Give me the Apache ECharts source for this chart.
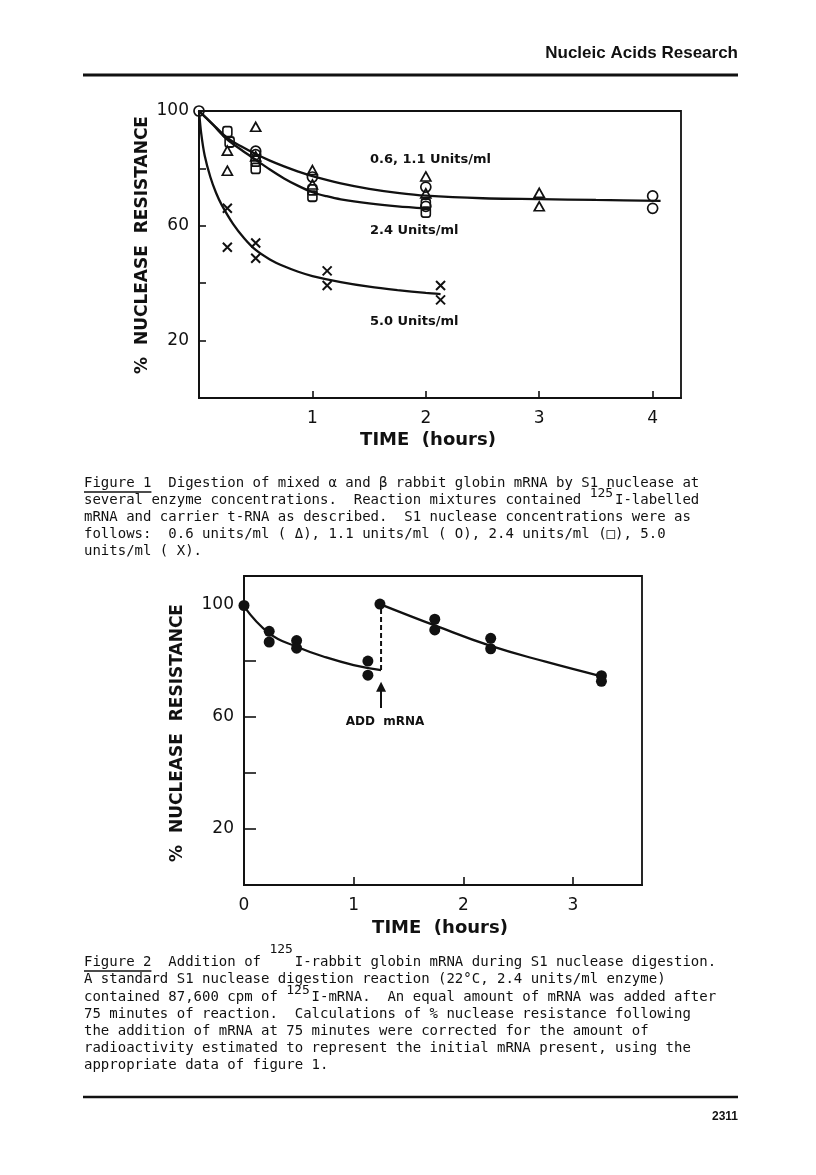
<!DOCTYPE html>
<html>
<head>
<meta charset="utf-8">
<script src="https://cdn.jsdelivr.net/npm/echarts@6/dist/echarts.min.js"></script>
<style>
html,body{margin:0;padding:0;background:#fff;}
#c{width:816px;height:1175px;}
</style>
</head>
<body>
<div id="c"></div>
<script>
// ---------------- Figure 1 data ----------------
const f1XTickVals = [1, 2, 3, 4];
const f1XLabelVals = [1, 2, 3, 4];
const f1YTickVals = [20, 40, 60, 80];
const f1YLabelVals = [20, 60, 100];
// 0.6 units/ml (triangles)
const f1Tri = [[0.25,86.2],[0.25,79.2],[0.5,94.5],[0.5,84.2],[1.0,79.4],[1.0,74.4],[2.0,77.2],[2.0,71.3],[3.0,71.5],[3.0,66.8]];
// 1.1 units/ml (circles)
const f1Circ = [[0,100],[0.5,86.0],[0.5,84.8],[1.0,77.0],[2.0,73.5],[2.0,66.8],[4.0,70.4],[4.0,66.1]];
// 2.4 units/ml (squares)
const f1Sq = [[0.25,92.8],[0.27,89.2],[0.5,82.5],[0.5,80.0],[1.0,72.5],[1.0,70.3],[2.0,67.6],[2.0,64.8]];
// 5.0 units/ml (crosses)
const f1X = [[0.25,66.1],[0.25,52.5],[0.5,54.0],[0.5,48.7],[1.13,44.3],[1.13,39.2],[2.13,39.2],[2.13,34.2]];
// fitted curves
const f1CurveUpper = [[0,100],[0.125,95.3],[0.25,90.6],[0.375,87.6],[0.5,85.0],[0.625,82.7],[0.75,80.7],[0.875,78.9],[1.0,77.3],[1.25,74.8],[1.5,72.9],[1.75,71.5],[2.0,70.5],[2.5,69.6],[3.0,69.3],[3.5,69.0],[4.07,68.7]];
const f1CurveMid = [[0,100],[0.125,95.1],[0.25,90.0],[0.375,86.4],[0.5,83.0],[0.625,79.6],[0.75,76.5],[0.875,73.9],[1.0,71.7],[1.125,70.3],[1.25,69.2],[1.5,67.8],[1.75,66.8],[2.0,66.1]];
const f1CurveLow = [[0,100],[0.02,92],[0.05,84.5],[0.1,77],[0.15,71.5],[0.2,67.3],[0.3,60.7],[0.4,55.6],[0.5,51.6],[0.625,48.3],[0.75,45.9],[0.875,44.0],[1.0,42.5],[1.25,40.4],[1.5,38.8],[1.75,37.6],[2.0,36.6],[2.13,36.2]];
const f1CurveLabels = ['0.6, 1.1 Units/ml', '2.4 Units/ml', '5.0 Units/ml'];

// ---------------- Figure 2 data ----------------
const f2XTickVals = [1, 2, 3];
const f2XLabelVals = [0, 1, 2, 3];
const f2YTickVals = [20, 40, 60, 80];
const f2YLabelVals = [20, 60, 100];
const f2Dots = [[0,99.5],[0.23,90.3],[0.23,86.5],[0.48,87.0],[0.48,84.3],[1.13,79.7],[1.13,74.7],[1.24,100],[1.74,94.6],[1.74,90.8],[2.25,87.8],[2.25,84.1],[3.26,74.5],[3.26,72.5]];
const f2Seg1 = [[0,99.2],[0.23,89.6],[0.48,84.8],[0.75,81.0],[1.0,78.3],[1.25,76.5]];
const f2Seg2 = [[1.24,100],[1.74,92.4],[2.25,85.1],[2.75,79.5],[3.26,74.3]];
const f2Dash = [[1.25,76.5],[1.25,100]];
const f2Arrow = [[1.25,63.0],[1.25,70.6]];
const f2ArrowLabel = 'ADD  mRNA';

// ---------------- page texts ----------------
const headerText = 'Nucleic Acids Research';
const pageNumber = '2311';
const cap1Lines = [
  'Figure 1  Digestion of mixed \u03b1 and \u03b2 rabbit globin mRNA by S1 nuclease at',
  'several enzyme concentrations.  Reaction mixtures contained    I-labelled',
  'mRNA and carrier t-RNA as described.  S1 nuclease concentrations were as',
  'follows:  0.6 units/ml ( \u0394), 1.1 units/ml ( O), 2.4 units/ml (\u25a1), 5.0',
  'units/ml ( X).'
];
const cap2Lines = [
  'Figure 2  Addition of    I-rabbit globin mRNA during S1 nuclease digestion.',
  'A standard S1 nuclease digestion reaction (22\u00b0C, 2.4 units/ml enzyme)',
  'contained 87,600 cpm of    I-mRNA.  An equal amount of mRNA was added after',
  '75 minutes of reaction.  Calculations of % nuclease resistance following',
  'the addition of mRNA at 75 minutes were corrected for the amount of',
  'radioactivity estimated to represent the initial mRNA present, using the',
  'appropriate data of figure 1.'
];
// superscripts: [captionIndex, line, column]
const supMarks = [[0,1,60],[1,0,22],[1,2,24]];
const supText = '125';

// ---------------- rendering ----------------
const INK = '#111111';
const AXF = '"DejaVu Sans", sans-serif';
const MONO = '"DejaVu Sans Mono", monospace';
const PITCH = 0.602 * 14;

function T(text, x, y, font, align, valign, rot) {
  return {
    type: 'text', x: x, y: y, rotation: rot || 0, silent: true,
    style: { text: text, x: 0, y: 0, font: font, fill: INK,
      align: align || 'left', verticalAlign: valign || 'middle',
      textAlign: align || 'left', textVerticalAlign: valign || 'middle' }
  };
}
function L(x1, y1, x2, y2, w) {
  return { type: 'line', silent: true, shape: { x1: x1, y1: y1, x2: x2, y2: y2 },
    style: { stroke: INK, lineWidth: w } };
}

const graphics = [];
graphics.push(T(headerText, 738, 53, 'bold 17px "Liberation Sans", Arial, sans-serif', 'right', 'middle'));
graphics.push(L(83, 75, 738, 75, 3));
graphics.push(L(83, 1097, 738, 1097, 2.5));
graphics.push(T(pageNumber, 738, 1117, 'bold 12px "Liberation Sans", Arial, sans-serif', 'right', 'middle'));

// axis names
graphics.push(T('TIME  (hours)', 428, 440, 'bold 18px ' + AXF, 'center', 'middle'));
graphics.push(T('TIME  (hours)', 440, 928, 'bold 18px ' + AXF, 'center', 'middle'));
graphics.push(T('%  NUCLEASE  RESISTANCE', 143, 245, 'bold 17px ' + AXF, 'center', 'middle', Math.PI / 2));
graphics.push(T('%  NUCLEASE  RESISTANCE', 178, 733, 'bold 17px ' + AXF, 'center', 'middle', Math.PI / 2));

// curve labels fig 1
const curveLabelY = [160, 231, 322];
f1CurveLabels.forEach((t, i) => graphics.push(T(t, 370, curveLabelY[i], 'bold 13px ' + AXF, 'left', 'middle')));
graphics.push(T(f2ArrowLabel, 385, 722, 'bold 12px ' + AXF, 'center', 'middle'));

// captions
const CAPX = 84;
const cap1Y = [483, 500, 517, 534, 551];
const cap2Y = [962, 979.5, 997, 1014, 1031, 1048, 1065];
cap1Lines.forEach((t, i) => graphics.push(T(t, CAPX, cap1Y[i], '14px ' + MONO, 'left', 'middle')));
cap2Lines.forEach((t, i) => graphics.push(T(t, CAPX, cap2Y[i], '14px ' + MONO, 'left', 'middle')));
const capYs = [cap1Y, cap2Y];
supMarks.forEach(([c, ln, col]) => {
  const raise = (c === 1 && ln === 0) ? 12 : 6;
  graphics.push(T(supText, CAPX + col * PITCH, capYs[c][ln] - raise, '13px ' + MONO, 'left', 'middle'));
});
// underlines "Figure 1" / "Figure 2"
graphics.push(L(CAPX, 492, CAPX + 8 * PITCH, 492, 1.3));
graphics.push(L(CAPX, 971, CAPX + 8 * PITCH, 971, 1.3));

function xAx(grid, max, ticks, labels, tickLen) {
  return {
    type: 'value', gridIndex: grid, min: 0, max: max,
    axisLine: { show: true, onZero: false, lineStyle: { color: INK, width: 1.8 } },
    axisTick: { show: true, inside: true, length: tickLen, customValues: ticks, lineStyle: { color: INK, width: 1.6 } },
    axisLabel: { show: true, customValues: labels, margin: 12, color: INK, fontFamily: AXF, fontSize: 17 },
    splitLine: { show: false }
  };
}
function yAx(grid, max, ticks, labels, tickLen) {
  return {
    type: 'value', gridIndex: grid, min: 0, max: max,
    axisLine: { show: true, onZero: false, lineStyle: { color: INK, width: 1.8 } },
    axisTick: { show: true, inside: true, length: tickLen, customValues: ticks, lineStyle: { color: INK, width: 1.6 } },
    axisLabel: { show: true, customValues: labels, margin: 10, color: INK, fontFamily: AXF, fontSize: 17 },
    splitLine: { show: false }
  };
}
const hollow = { color: 'rgba(255,255,255,0)', borderColor: INK, borderWidth: 1.7, opacity: 1 };
function curve(data, xi, extra) {
  return Object.assign({
    type: 'line', xAxisIndex: xi, yAxisIndex: xi, data: data,
    showSymbol: false, symbol: 'none', smooth: 0.3,
    lineStyle: { color: INK, width: 2.3 }, emphasis: { disabled: true }, silent: true, z: 3
  }, extra || {});
}
function scat(data, xi, symbol, size, style) {
  return { type: 'scatter', xAxisIndex: xi, yAxisIndex: xi, data: data, symbol: symbol,
    symbolSize: size, itemStyle: style, emphasis: { disabled: true }, silent: true, z: 4, clip: false };
}

const option = {
  backgroundColor: '#ffffff',
  animation: false,
  grid: [
    { left: 199, top: 111, width: 482, height: 287, show: true, borderColor: INK, borderWidth: 1.8, backgroundColor: 'transparent' },
    { left: 244, top: 576, width: 398, height: 309, show: true, borderColor: INK, borderWidth: 1.8, backgroundColor: 'transparent' }
  ],
  xAxis: [ xAx(0, 4.25, f1XTickVals, f1XLabelVals, 7), xAx(1, 3.63, f2XTickVals, f2XLabelVals, 8) ],
  yAxis: [ yAx(0, 100, f1YTickVals, f1YLabelVals, 7), yAx(1, 110, f2YTickVals, f2YLabelVals, 12) ],
  series: [
    curve(f1CurveUpper, 0),
    curve(f1CurveMid, 0),
    curve(f1CurveLow, 0),
    scat(f1Tri, 0, 'triangle', [10, 9], hollow),
    scat(f1Circ, 0, 'circle', 10, hollow),
    scat(f1Sq, 0, 'roundRect', [9, 10], hollow),
    scat(f1X, 0, 'path://M0,0L10,10M10,0L0,10', 9, { color: 'rgba(0,0,0,0)', borderColor: INK, borderWidth: 2, opacity: 1 }),
    curve(f2Seg1, 1, { smooth: 0.45 }),
    curve(f2Seg2, 1, { smooth: 0.45 }),
    curve(f2Dash, 1, { smooth: false, lineStyle: { color: INK, width: 2, type: [5, 3] },
      markLine: { silent: true, animation: false, symbol: ['none', 'triangle'], symbolSize: [10, 10],
        label: { show: false }, lineStyle: { color: INK, width: 2, type: 'solid' },
        data: [[{ coord: f2Arrow[0] }, { coord: f2Arrow[1] }]] } }),
    scat(f2Dots, 1, 'circle', 11, { color: INK, opacity: 1 })
  ],
  graphic: { elements: graphics }
};

const chart = echarts.init(document.getElementById('c'), null, { renderer: 'canvas', width: 816, height: 1175 });
chart.setOption(option);
</script>
</body>
</html>
